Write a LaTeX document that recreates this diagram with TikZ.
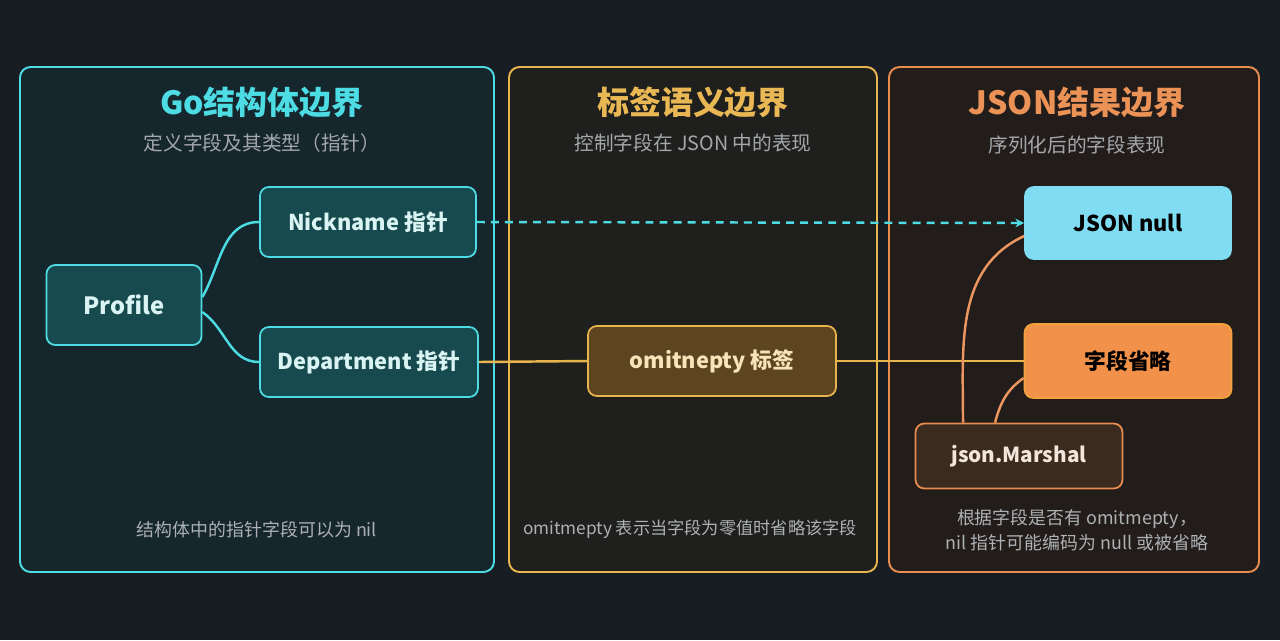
\documentclass[tikz,border=0pt]{standalone}
\usepackage{fontspec}
\setmainfont{Noto Sans CJK SC}
\usepackage{tikz}
\usetikzlibrary{arrows.meta}
\usepackage{xcolor}

\definecolor{bgdark}{HTML}{171D22}
\definecolor{goline}{HTML}{4DDCE4}
\definecolor{gofill}{HTML}{15262C}
\definecolor{gonode}{HTML}{174A4E}
\definecolor{gotext}{HTML}{DAF4F4}
\definecolor{tagline}{HTML}{E8B44C}
\definecolor{tagfill}{HTML}{1F1F1D}
\definecolor{tagnode}{HTML}{5C4520}
\definecolor{tagtext}{HTML}{F8E4B8}
\definecolor{jsline}{HTML}{EA8C4E}
\definecolor{jsfill}{HTML}{221C1A}
\definecolor{nullfill}{HTML}{7FDCF2}
\definecolor{omitfill}{HTML}{F2914A}
\definecolor{marshfill}{HTML}{3B2B1F}
\definecolor{marshtext}{HTML}{F2E6DC}
\definecolor{subgray}{HTML}{A4A8AC}

\tikzset{
  panel/.style={rounded corners=6pt, line width=1.1pt},
  heading/.style={font=\fontsize{18.2}{22}\selectfont\bfseries},
  subhead/.style={text=subgray, font=\fontsize{11.2}{14}\selectfont},
  footnote/.style={text=subgray!90!white, font=\fontsize{10.2}{14}\selectfont, align=center},
  box/.style={rounded corners=5pt, line width=1pt, align=center,
    font=\fontsize{12.4}{16}\selectfont\bfseries},
  gobox/.style={box, draw=goline, fill=gonode, text=gotext},
  tagbox/.style={box, draw=tagline, fill=tagnode, text=tagtext},
  link/.style={line width=1.4pt},
}

\begin{document}
\begin{tikzpicture}[x=0.02cm, y=-0.02cm]

\fill[bgdark] (0,0) rectangle (1280,640);
\useasboundingbox (0,0) rectangle (1280,640);

% ==== Panels ====
\draw[panel, draw=goline, fill=gofill] (20,67) rectangle (494,572);
\draw[panel, draw=tagline, fill=tagfill] (509,67) rectangle (877,572);
\draw[panel, draw=jsline, fill=jsfill] (889,67) rectangle (1259,572);

% Headings
\node[heading, text=goline] (gohead) at (262,102) {Go结构体边界};
\node[subhead] (gosub) at (262,143) {定义字段及其类型（指针）};
\node[heading, text=tagline!95!white] (taghead) at (693,102) {标签语义边界};
\node[subhead] (tagsub) at (693,143) {控制字段在 JSON 中的表现};
\node[heading, text=jsline!95!white] (jshead) at (1077,102) {JSON结果边界};
\node[subhead] (jssub) at (1077,145) {序列化后的字段表现};

% ==== Go struct ====
\node[gobox, minimum width=3.1cm, minimum height=1.6cm, font=\fontsize{13.5}{16}\selectfont\bfseries] (profile) at (124,305) {Profile};
\node[gobox, minimum width=4.32cm, minimum height=1.4cm] (nick) at (368,222) {Nickname 指针};
\node[gobox, minimum width=4.36cm, minimum height=1.4cm] (dept) at (369,362) {Department 指针};

% ==== Tag ====
\node[tagbox, minimum width=4.96cm, minimum height=1.4cm] (omit) at (712,361) {omitnepty 标签};

% ==== JSON result ====
\node[box, draw=nullfill, fill=nullfill, text=black, minimum width=4.12cm, minimum height=1.44cm] (null) at (1128,223) {JSON null};
\node[box, draw=omitfill!85!yellow, fill=omitfill, text=black, minimum width=4.14cm, minimum height=1.48cm] (skip) at (1128,361) {字段省略};
\node[box, draw=jsline, fill=marshfill, text=marshtext, minimum width=4.14cm, minimum height=1.3cm,
  font=\fontsize{11.8}{15}\selectfont\bfseries] (marshal) at (1019,456) {json.Marshal};

% Connectors
\draw[link, goline] ([yshift=0.16cm]profile.east) to[out=60, in=180] (nick.west);
\draw[link, goline] ([yshift=-0.14cm]profile.east) to[out=-35, in=180] (dept.west);
\draw[link, goline, dash pattern=on 4.5pt off 3.5pt, -{Stealth[length=5pt, width=5pt]}] (nick.east) -- (null.west);
\draw[link, tagline] (dept.east) -- (omit.west);
\draw[link, tagline] (omit.east) -- (skip.west);
\draw[link, jsline!90!white] ([xshift=-1.12cm]marshal.north) to[out=90, in=205] ([yshift=-0.26cm]null.west);
\draw[link, jsline!90!white] ([xshift=-0.48cm]marshal.north) to[out=75, in=215] ([yshift=-0.34cm]skip.west);

% Notes
\node[footnote] (gonote) at (257,530) {结构体中的指针字段可以为 nil};
\node[footnote, font=\fontsize{9.8}{14}\selectfont] (tagnote) at (690,529) {omitmepty 表示当字段为零值时省略该字段};
\node[footnote] (jsnote) at (1077,530) {根据字段是否有 omitmepty，\\nil 指针可能编码为 null 或被省略};

\end{tikzpicture}
\end{document}
